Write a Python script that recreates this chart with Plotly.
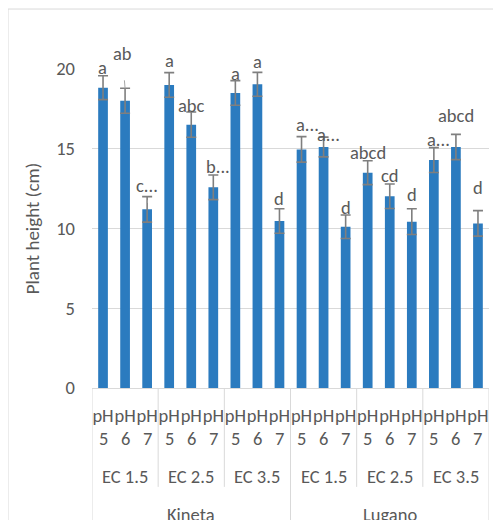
import plotly.graph_objects as go

ph_labels = ["pH", "pH", "pH"]
ph_values = ["5", "6", "7"]
ec_labels = ["EC 1.5", "EC 2.5", "EC 3.5"]
cultivars = ["Kineta", "Lugano"]

heights = [18.83, 18.01, 11.20, 19.00, 16.51, 12.58, 18.50, 19.04, 10.47,
           14.96, 15.11, 10.11, 13.50, 12.02, 10.43, 14.29, 15.11, 10.32]
errors = [0.75, 0.78, 0.80, 0.77, 0.79, 0.77, 0.77, 0.75, 0.77,
          0.80, 0.62, 0.74, 0.75, 0.77, 0.81, 0.78, 0.79, 0.80]
letters = ["a", "ab", "c...", "a", "abc", "b...", "a", "a", "d",
           "a...", "a...", "d", "abcd", "cd", "d", "a...", "abcd", "d"]
label_y = [20.1, 20.98, 12.72, 20.56, 17.74, 13.87, 19.73, 20.5, 11.89,
           16.49, 15.92, 11.33, 14.75, 13.33, 12.12, 15.59, 17.07, 12.56]
label_dx = [-1, -3, 0, 0, 0, 5, 0, 0, 0, 6, 5, 0, 0, 0, 0, 5, 0, 0]
leader = [False, True, True] + [False] * 15

Y_MAX = 20
FONT = "Calibri, Carlito, Liberation Sans, Arial, sans-serif"
FS = 18.5
TXT = "#595959"
LINE = "#d9d9d9"

n = len(heights)
xs = list(range(n))
ticktext = [ph_labels[i % 3] for i in xs]

fig = go.Figure()
fig.add_trace(go.Bar(
    x=xs, y=heights, width=0.44,
    marker=dict(color="#2b7bbf", line=dict(width=0)),
    error_y=dict(type="data", array=errors, visible=True,
                 color="#7f7f7f", thickness=1.6, width=5),
    showlegend=False,
))

ann = []
for i in xs:
    if leader[i]:
        tip = heights[i] + errors[i]
        if i == 2:
            tip = heights[i] + errors[i] * 0.5
        ay_px = -(label_y[i] - tip) * 15.95
        ann.append(dict(x=i, y=tip / Y_MAX, xref="x", yref="paper", text=letters[i],
                        showarrow=True, arrowhead=0, startarrowhead=0,
                        arrowside="end+start", startstandoff=14 if i == 1 else 2,
                        arrowwidth=1, arrowcolor="#a6a6a6",
                        ax=label_dx[i], ay=ay_px,
                        font=dict(family=FONT, size=FS, color=TXT)))
    else:
        ann.append(dict(x=i, y=label_y[i] / Y_MAX, xref="x", yref="paper",
                        text=letters[i], showarrow=False, xshift=label_dx[i],
                        yanchor="middle",
                        font=dict(family=FONT, size=FS, color=TXT)))

# pH value row
for i in xs:
    ann.append(dict(x=i, y=-0.157, xref="x", yref="paper", text=ph_values[i % 3],
                    showarrow=False, yanchor="middle",
                    font=dict(family=FONT, size=FS, color=TXT)))
# EC group labels and cultivar labels
for g in range(6):
    ann.append(dict(x=g * 3 + 1, y=-0.276, xref="x", yref="paper",
                    text=ec_labels[g % 3], showarrow=False, yanchor="middle",
                    font=dict(family=FONT, size=FS, color=TXT)))
for c in range(2):
    ann.append(dict(x=c * 9 + 4, y=-0.395, xref="x", yref="paper",
                    text=cultivars[c], showarrow=False, yanchor="middle",
                    font=dict(family=FONT, size=FS, color=TXT)))

shapes = []
for b in range(7):
    xb = b * 3 - 0.5
    long = b in (0, 3, 6)
    shapes.append(dict(type="line", xref="x", yref="paper", x0=xb, x1=xb,
                       y0=0, y1=-0.6 if long else -0.31,
                       line=dict(color=LINE, width=1)))
# chart outer border (left and top)
shapes.append(dict(type="line", xref="paper", yref="paper", x0=-0.2116, x1=-0.2116,
                   y0=1.188, y1=-0.6, line=dict(color=LINE, width=1)))
shapes.append(dict(type="line", xref="paper", yref="paper", x0=-0.2116, x1=1.2,
                   y0=1.188, y1=1.188, line=dict(color=LINE, width=1)))

fig.update_layout(
    width=493, height=512,
    margin=dict(l=84, r=12, t=61, b=132),
    paper_bgcolor="white", plot_bgcolor="white",
    font=dict(family=FONT, size=FS, color=TXT),
    annotations=ann, shapes=shapes,
)
fig.update_xaxes(
    range=[-0.5, n - 0.5], tickvals=xs, ticktext=ticktext, tickangle=0,
    showgrid=False, showline=True, linecolor=LINE, linewidth=1,
    ticks="", ticklabelstandoff=11, zeroline=False, automargin=False,
    tickfont=dict(family=FONT, size=FS, color=TXT),
)
fig.update_yaxes(
    range=[0, Y_MAX], tickvals=[0, 5, 10, 15, 20], showgrid=True,
    gridcolor=LINE, gridwidth=1, zeroline=False, showline=False,
    ticks="", ticklabelstandoff=16, automargin=False,
    tickfont=dict(family=FONT, size=FS, color=TXT),
    title=dict(text="Plant height (cm)", standoff=11,
               font=dict(family=FONT, size=19, color=TXT)),
)

fig.write_html("out.html")
